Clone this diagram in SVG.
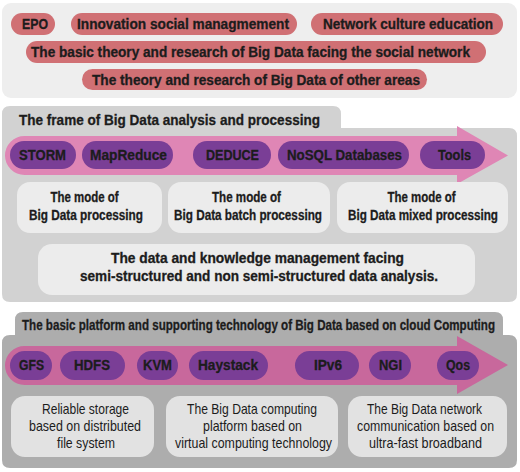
<svg xmlns="http://www.w3.org/2000/svg" width="520" height="472" viewBox="0 0 520 472">
<style>
text{font-family:"Liberation Sans",Arial,sans-serif;fill:#1c1c1c;text-anchor:middle}
.b{font-weight:bold;font-size:14px;stroke:#1c1c1c;stroke-width:0.3}
.t{font-size:15px}
.r{font-size:14.5px}
.salmon{fill:#d07074}
.purple{fill:#7a3e96}
.light{fill:#ececec}
.light2{fill:#e2e2e2}
</style>
<rect x="2" y="3" width="515" height="95" rx="9" fill="#eeeeee"/>
<g id="top-pills">
<g id="epo"><rect class="salmon" x="11" y="13" width="44" height="22" rx="11"/><text class="b" x="35" y="29" textLength="26" lengthAdjust="spacingAndGlyphs">EPO</text></g>
<g id="innovation"><rect class="salmon" x="71" y="13" width="226" height="22" rx="11"/><text class="b" x="183" y="29" textLength="212" lengthAdjust="spacingAndGlyphs">Innovation social managmement</text></g>
<g id="network-culture"><rect class="salmon" x="311" y="13" width="192" height="22" rx="11"/><text class="b" x="408" y="29" textLength="170" lengthAdjust="spacingAndGlyphs">Network culture education</text></g>
<g id="basic-theory"><rect class="salmon" x="26" y="41" width="460" height="22" rx="11"/><text class="b" x="250.5" y="57" textLength="439" lengthAdjust="spacingAndGlyphs">The basic theory and research of Big Data facing the social network</text></g>
<g id="other-areas"><rect class="salmon" x="82" y="69" width="345" height="21" rx="10.5"/><text class="b" x="256" y="85" textLength="328" lengthAdjust="spacingAndGlyphs">The theory and research of Big Data of other areas</text></g>
</g>
<g id="frame-panel">
<path d="M2,114 Q2,106 10,106 L333,106 Q341,106 341,114 L341,128 L509,128 Q517,128 517,136 L517,294 Q517,302 509,302 L10,302 Q2,302 2,294 Z" fill="#d2d2d2"/>
<text class="b t" x="169.5" y="125" textLength="301" lengthAdjust="spacingAndGlyphs">The frame of Big Data analysis and processing</text>
</g>
<g id="connectors">
<path id="arrow1" d="M24.5,136 L457,136 L457,126 L508,155.5 L457,184 L457,175 L24.5,175 A19.5,19.5 0 0 1 24.5,136 Z" fill="#df86b5"/>
</g>
<g id="frame-pills">
<g id="storm"><rect class="purple" x="10" y="141" width="66" height="28" rx="14"/><text class="b" x="42.5" y="160" textLength="47" lengthAdjust="spacingAndGlyphs">STORM</text></g>
<g id="mapreduce"><rect class="purple" x="82" y="141" width="91" height="28" rx="14"/><text class="b" x="128.5" y="160" textLength="77" lengthAdjust="spacingAndGlyphs">MapReduce</text></g>
<g id="deduce"><rect class="purple" x="193" y="141" width="78" height="28" rx="14"/><text class="b" x="232.5" y="160" textLength="53" lengthAdjust="spacingAndGlyphs">DEDUCE</text></g>
<g id="nosql"><rect class="purple" x="278" y="141" width="131" height="28" rx="14"/><text class="b" x="344.5" y="160" textLength="115" lengthAdjust="spacingAndGlyphs">NoSQL Databases</text></g>
<g id="tools"><rect class="purple" x="420" y="141" width="65" height="28" rx="14"/><text class="b" x="454.5" y="160" textLength="33" lengthAdjust="spacingAndGlyphs">Tools</text></g>
</g>
<g id="mode1"><rect class="light" x="17" y="182" width="145" height="51" rx="13"/><text class="b" x="84.5" y="202" textLength="68" lengthAdjust="spacingAndGlyphs">The mode of</text><text class="b" x="86" y="220" textLength="114" lengthAdjust="spacingAndGlyphs">Big Data processing</text></g>
<g id="mode2"><rect class="light" x="168" y="182" width="162" height="51" rx="13"/><text class="b" x="246.5" y="202" textLength="69" lengthAdjust="spacingAndGlyphs">The mode of</text><text class="b" x="248" y="220" textLength="148" lengthAdjust="spacingAndGlyphs">Big Data batch processing</text></g>
<g id="mode3"><rect class="light" x="337" y="182" width="171" height="51" rx="13"/><text class="b" x="421.5" y="202" textLength="68" lengthAdjust="spacingAndGlyphs">The mode of</text><text class="b" x="423" y="220" textLength="150" lengthAdjust="spacingAndGlyphs">Big Data mixed processing</text></g>
<g id="knowledge"><rect class="light" x="38" y="244" width="437" height="51" rx="14"/><text class="b" x="257.5" y="263" textLength="293" lengthAdjust="spacingAndGlyphs">The data and knowledge management facing</text><text class="b" x="259" y="281" textLength="358" lengthAdjust="spacingAndGlyphs">semi-structured and non semi-structured data analysis.</text></g>
<g id="platform-panel">
<path d="M15,320 Q15,312 23,312 L495,312 Q503,312 503,320 L503,335 L509,335 Q517,335 517,343 L517,460 Q517,468 509,468 L10,468 Q2,468 2,460 L2,343 Q2,335 10,335 L15,335 Z" fill="#adadad"/>
<text class="b t" x="258.5" y="330" textLength="473" lengthAdjust="spacingAndGlyphs">The basic platform and supporting technology of Big Data based on cloud Computing</text>
</g>
<g id="connectors2">
<path id="arrow2" d="M24.5,346 L457,346 L457,336 L508,365 L457,394 L457,385 L24.5,385 A19.5,19.5 0 0 1 24.5,346 Z" fill="#c8689c"/>
</g>
<g id="platform-pills">
<g id="gfs"><rect class="purple" x="10" y="351" width="42" height="29" rx="14.5"/><text class="b" x="31.5" y="370" textLength="25" lengthAdjust="spacingAndGlyphs">GFS</text></g>
<g id="hdfs"><rect class="purple" x="60" y="351" width="65" height="29" rx="14.5"/><text class="b" x="92" y="370" textLength="36" lengthAdjust="spacingAndGlyphs">HDFS</text></g>
<g id="kvm"><rect class="purple" x="137" y="351" width="41" height="29" rx="14.5"/><text class="b" x="157.5" y="370" textLength="29" lengthAdjust="spacingAndGlyphs">KVM</text></g>
<g id="haystack"><rect class="purple" x="189" y="351" width="79" height="29" rx="14.5"/><text class="b" x="228" y="370" textLength="60" lengthAdjust="spacingAndGlyphs">Haystack</text></g>
<g id="ipv6"><rect class="purple" x="295" y="351" width="64" height="29" rx="14.5"/><text class="b" x="328" y="370" textLength="28" lengthAdjust="spacingAndGlyphs">IPv6</text></g>
<g id="ngi"><rect class="purple" x="369" y="351" width="42" height="29" rx="14.5"/><text class="b" x="390.5" y="370" textLength="23" lengthAdjust="spacingAndGlyphs">NGI</text></g>
<g id="qos"><rect class="purple" x="437" y="351" width="42" height="29" rx="14.5"/><text class="b" x="458" y="370" textLength="24" lengthAdjust="spacingAndGlyphs">Qos</text></g>
</g>
<g id="storage"><rect class="light2" x="11" y="396" width="143" height="61" rx="14"/><text class="r" x="85.5" y="414" textLength="87" lengthAdjust="spacingAndGlyphs">Reliable storage</text><text class="r" x="85" y="431" textLength="112" lengthAdjust="spacingAndGlyphs">based on distributed</text><text class="r" x="86" y="448" textLength="58" lengthAdjust="spacingAndGlyphs">file system</text></g>
<g id="computing"><rect class="light2" x="166" y="396" width="172" height="61" rx="14"/><text class="r" x="252" y="414" textLength="130" lengthAdjust="spacingAndGlyphs">The Big Data computing</text><text class="r" x="252.5" y="431" textLength="99" lengthAdjust="spacingAndGlyphs">platform based on</text><text class="r" x="253.5" y="448" textLength="157" lengthAdjust="spacingAndGlyphs">virtual computing technology</text></g>
<g id="network-comm"><rect class="light2" x="348" y="396" width="159" height="61" rx="14"/><text class="r" x="424.5" y="414" textLength="115" lengthAdjust="spacingAndGlyphs">The Big Data network</text><text class="r" x="425.5" y="431" textLength="137" lengthAdjust="spacingAndGlyphs">communication based on</text><text class="r" x="425.5" y="448" textLength="113" lengthAdjust="spacingAndGlyphs">ultra-fast broadband</text></g>
</svg>
